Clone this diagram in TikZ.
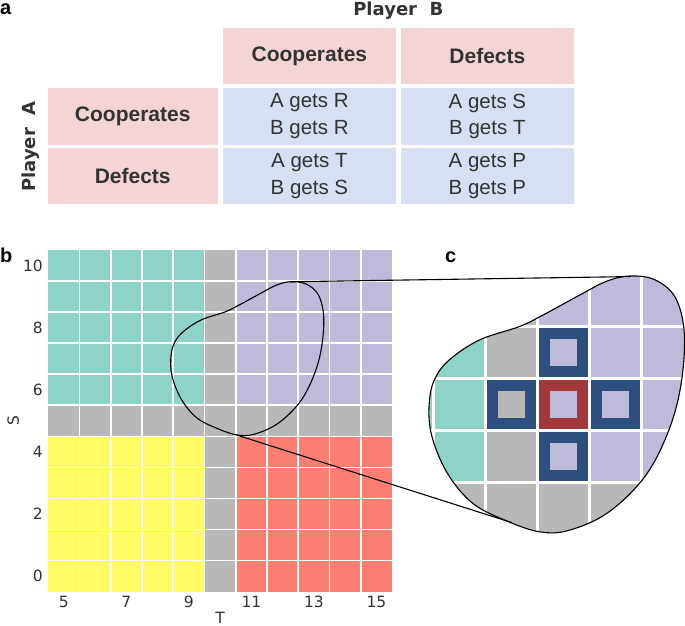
\documentclass[tikz,border=0pt]{standalone}
\usepackage{fontspec}
\setmainfont{Liberation Sans}
\newfontfamily\dvs{DejaVu Sans}
\definecolor{pinkc}{HTML}{F3D5D5}
\definecolor{bluec}{HTML}{D6E0F2}
\definecolor{txt}{HTML}{333333}
\definecolor{teal3}{HTML}{8DD3C7}
\definecolor{gray3}{HTML}{B8B8B8}
\definecolor{purp3}{HTML}{BEBADA}
\definecolor{yell3}{HTML}{FFFC66}
\definecolor{salm3}{HTML}{FB8072}
\definecolor{frameblue}{HTML}{2D4E7E}
\definecolor{framered}{HTML}{A3383A}
\begin{document}
\begin{tikzpicture}[x=1pt,y=-1pt,
  tcell/.style={minimum width=173.3pt, minimum height=56.5pt, inner sep=0pt, anchor=center},
  pinkcell/.style={tcell, fill=pinkc, text=txt, font=\fontsize{21}{25}\selectfont\bfseries},
  bluecell/.style={tcell, fill=bluec, text=txt, align=center, font=\fontsize{20.5}{26.6}\selectfont},
  plabel/.style={font=\fontsize{20}{24}\selectfont\bfseries, anchor=base west, inner sep=0pt},
  ptitle/.style={font=\dvs\fontsize{18}{22}\selectfont\bfseries, text=txt, inner sep=0pt, anchor=base},
  ticklab/.style={font=\dvs\fontsize{15.5}{18}\selectfont, text=txt, inner sep=0pt},
  zoomline/.style={black, line width=1.1pt},
  blobshape/.style={insert path={plot[smooth cycle, tension=0.6] coordinates {
    (1.25,-2.47) (1.75,-2.40) (2.15,-2.05) (2.32,-1.35) (2.25,-0.35) (2.0,0.55)
    (1.55,1.4) (0.85,2.08) (0.1,2.42) (-0.45,2.45) (-1.07,2.25) (-1.75,1.9)
    (-2.25,1.3) (-2.55,0.55) (-2.58,-0.1) (-2.45,-0.55) (-2.15,-0.9) (-1.6,-1.25)
    (-0.85,-1.5) (-0.4,-1.72) (0.3,-2.1) (0.8,-2.36)}}},
  whiteline/.style={white, line width=#1},
]
\useasboundingbox (0,0) rectangle (685,626);

% ---------- panel a ----------
\node[plabel] (la) at (0,15) {a};
\node[ptitle] (pb) at (398.3,16) {Player\ \ B};
\node[ptitle, rotate=90] (pa) at (35,146.7) {Player\ \ A};
\node[pinkcell] (hc1) at (309.4,56) {Cooperates};
\node[pinkcell] (hc2) at (487.4,56) {Defects};
\node[pinkcell, minimum width=170pt] (rc1) at (132.7,116.3) {Cooperates};
\node[pinkcell, minimum width=170pt] (rc2) at (132.7,175.9) {Defects};
\node[bluecell] (c11) at (309.4,116.3) {A gets R\\B gets R};
\node[bluecell] (c12) at (487.4,116.3) {A gets S\\B gets T};
\node[bluecell] (c21) at (309.4,175.9) {A gets T\\B gets S};
\node[bluecell] (c22) at (487.4,175.9) {A gets P\\B gets P};

% ---------- panel b ----------
\node[plabel] (lb) at (0,262) {b};
\begin{scope}[shift={(48.3pt,-250pt)}, x=31.25pt, y=-31.06pt]
  \fill[teal3] (0,0) rectangle (5,5);
  \fill[gray3] (5,0) rectangle (6,11);
  \fill[gray3] (0,5) rectangle (11,6);
  \fill[purp3] (6,0) rectangle (11,5);
  \fill[yell3] (0,6) rectangle (5,11);
  \fill[salm3] (6,6) rectangle (11,11);
  \foreach \k in {1,...,10} {
    \draw[whiteline=1.7pt] (\k,0) -- (\k,11);
    \draw[whiteline=1.7pt] (0,\k) -- (11,\k);
  }
  \foreach \s in {0,2,...,10} {
    \node[ticklab, anchor=east] (ys\s) at (-0.17,10.5-\s) {\s};
  }
  \foreach \t in {5,7,...,15} {
    \node[ticklab] (xt\t) at (\t-4.5,11.33) {\t};
  }
  \node[ticklab] (tlab) at (5.5,11.83) {T};
  \node[ticklab, rotate=90] (slab) at (-1.12,5.5) {S};
\end{scope}
\begin{scope}[shift={(251.4pt,-358.7pt)}, x=31.15pt, y=-31.15pt]
  \draw[zoomline, blobshape];
  \coordinate (bt) at (1.25,-2.47);
  \coordinate (bb) at (-0.47,2.45);
\end{scope}

% ---------- panel c ----------
\node[plabel] (lc) at (445,262.7) {c};
\begin{scope}[shift={(563.7pt,-404.5pt)}, x=52pt, y=-52pt]
  \coordinate (ct) at (1.28,-2.46);
  \coordinate (cb) at (-1.0,2.27);
  \begin{scope}
    \clip[blobshape];
    \fill[teal3] (-3.5,-3.5) rectangle (-1.5,1.5);
    \fill[gray3] (-1.5,-3.5) rectangle (-0.5,3.5);
    \fill[gray3] (-3.5,1.5) rectangle (3.5,2.5);
    \fill[purp3] (-0.5,-3.5) rectangle (3.5,1.5);
    \fill[yell3] (-3.5,2.5) rectangle (-1.5,3.5);
    \fill[salm3] (-0.5,2.5) rectangle (3.5,3.5);
    \foreach \k in {-3.5,-2.5,...,3.5} {
      \draw[whiteline=3pt] (\k,-3.5) -- (\k,3.5);
      \draw[whiteline=3pt] (-3.5,\k) -- (3.5,\k);
    }
    \foreach \i/\j/\fc/\ic in {0/-1/frameblue/purp3, -1/0/frameblue/gray3, 1/0/frameblue/purp3, 0/1/frameblue/purp3, 0/0/framered/purp3} {
      \fill[\fc] (\i-0.4712,\j-0.4712) rectangle (\i+0.4712,\j+0.4712);
      \fill[\ic] (\i-0.2596,\j-0.2596) rectangle (\i+0.2596,\j+0.2596);
    }
  \end{scope}
  \draw[line width=1.1pt, blobshape];
\end{scope}

% ---------- zoom connectors ----------
\draw[zoomline] (bt) -- (ct);
\draw[zoomline] (bb) -- (cb);
\end{tikzpicture}
\end{document}
